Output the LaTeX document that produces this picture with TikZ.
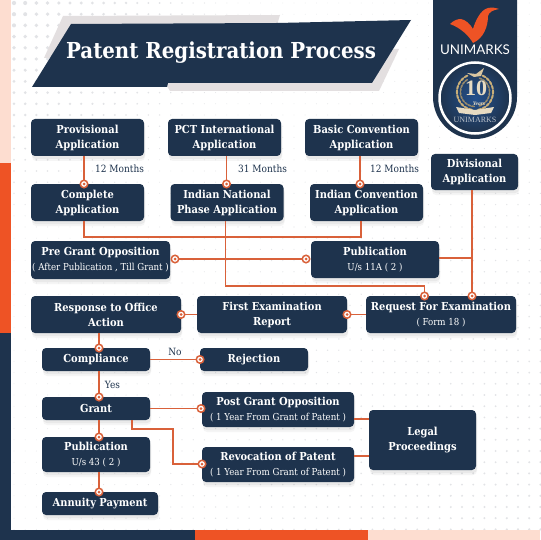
\documentclass[tikz,border=0pt]{standalone}
\usepackage{fontspec}
\usetikzlibrary{positioning,calc,shadows}
\setmainfont{DejaVu Serif Condensed}
\newfontfamily\logofont{Lato}
\newfontfamily\medalfont{Liberation Serif}
\definecolor{navy}     {HTML}{1E334D}
\definecolor{flame}    {HTML}{EE5325}
\definecolor{blush}    {HTML}{FDDDD0}
\definecolor{wirered}  {HTML}{D9613A}
\definecolor{banshade} {HTML}{E3DFE0}
\definecolor{dotgrey}  {HTML}{E2E3E6}
\definecolor{gold}     {HTML}{C9AE78}
\definecolor{medalblue}{HTML}{24508C}
\tikzset{
  x=1pt, y=-1pt,
  % --- nodes
  box/.style    = {rounded corners=4pt, fill=navy, text=white, align=center, outer sep=0pt,
                   inner sep=0pt, font=\fontsize{11}{15}\selectfont\bfseries,
                   drop shadow={opacity=.08, shadow xshift=1pt, shadow yshift=-5pt},
                   drop shadow={opacity=.10, shadow xshift=1pt, shadow yshift=-3pt}},
  wide/.style   = {box, minimum width=113pt, minimum height=37pt},
  small/.style  = {box, minimum width=108pt, minimum height=23pt},
  hub/.style    = {circle, draw=wirered, fill=white, line width=1.5pt, minimum size=7.5pt,
                   inner sep=0pt, outer sep=0pt,
                   path picture={\fill[wirered] (path picture bounding box.center) circle (1.5pt);}},
  lbl/.style    = {font=\fontsize{10}{12}\selectfont, text=navy, inner sep=0pt},
  % --- edges
  wire/.style   = {draw=wirered, line width=1.4pt},
}
\newcommand{\subline}[1]{{\fontsize{9.6}{13}\selectfont\mdseries #1}}
\begin{document}
\begin{tikzpicture}
  \useasboundingbox (0,0) rectangle (540,540);
  \fill[white] (0,0) rectangle (540,540);

  % ------------------------------------------------------------------ dots
  \foreach \i in {0,...,47}{
    \foreach \j in {0,...,47}{
      \pgfmathsetmacro{\px}{14+11.2*\i}
      \pgfmathsetmacro{\py}{3+11.2*\j}
      \pgfmathsetmacro{\rad}{0.35+1.9*max(0,1-veclen(\px,\py)/240)+0.9*(\px/540)*(\py/540)}
      \fill[dotgrey] (\px,\py) circle (\rad);
    }
  }

  % ------------------------------------------------------------------ frame
  \fill[blush] (0,0) rectangle (11,163);
  \fill[flame] (0,163) rectangle (11,333);
  \fill[navy]  (0,333) rectangle (11,540);
  \fill[navy]  (0,530) rectangle (195,540);
  \fill[flame] (195,530) rectangle (368,540);
  \fill[blush] (368,530) rectangle (540,540);

  % ------------------------------------------------------------------ title
  \fill[banshade] (44,58) -- (63,16) -- (280,15) -- (277,25) -- (71,26) -- (56,58) -- cycle;
  \fill[banshade] (165,83) -- (170,91) -- (379,91) -- (399,49) -- (390,49) -- (372,83) -- cycle;
  \fill[navy] (32,87) -- (71,24) -- (277,23) -- (411,20) -- (372,83) -- (168,83) -- (167,87) -- cycle;
  \node[text=white, inner sep=0pt, font=\fontsize{22}{26}\selectfont\bfseries] (title) at (221,53)
    {Patent Registration Process};

  % ------------------------------------------------------------------ badge
  \fill[navy] (433,0) -- (517,0) -- (517,97) arc[start angle=0, end angle=180, radius=42] -- cycle;
  \fill[flame] (450,24) .. controls (454,20) and (458,19) .. (461,19)
    .. controls (466,20) and (470,24) .. (473,29)
    .. controls (475,22) and (480,10) .. (488,8)
    .. controls (492,7) and (496,8) .. (499,9)
    .. controls (493,10) and (489,12) .. (488,16)
    .. controls (488,26) and (484,38) .. (473,43)
    .. controls (469,36) and (461,28) .. (450,24) -- cycle;
  \node[text=white, inner sep=0pt, font=\logofont\fontsize{13.4}{15}\selectfont] (brand) at (475,50) {UNIMARKS};
  \shade[inner color=medalblue, outer color=navy] (475,98) circle (35.5);
  \draw[white, line width=2.5pt] (475,98) circle (35.5);
  \foreach \a in {-75,-60,...,60,120,135,...,255}{
    \fill[gold, shift={(475,92)}, rotate=\a] (18,0) ellipse (1.1 and 2.6);
    \fill[gold!70!navy, shift={(475,92)}, rotate=\a+7] (14.5,0) ellipse (0.9 and 2.1);
  }
  \fill[gold!70!white] (467,73) -- (476,74) -- (484,68) -- (481,76) -- (474,77) -- cycle;
  \node[text=gold!45!white, inner sep=0pt, font=\medalfont\fontsize{22}{22}\selectfont\bfseries] (decade) at (476,88) {10};
  \fill[gold!45!white] (456,107) -- (475,110) -- (494,107) -- (491,113) -- (475,115) -- (459,113) -- cycle;
  \node[text=gold!40!white, inner sep=0pt, font=\medalfont\fontsize{5.5}{6}\selectfont\itshape\bfseries] (years) at (479,104) {Years};
  \node[text=white!70!navy, inner sep=0pt, font=\medalfont\fontsize{8}{8}\selectfont] (brandsub) at (475,120) {UNIMARKS};

  % ------------------------------------------------------------------ boxes
  \node[wide] (prov) at (87.5,137.5) {Provisional\\Application};
  \node[wide, right=24pt of prov] (pct) {PCT International\\Application};
  \node[wide, right=24pt of pct] (basic) {Basic Convention\\Application};
  \node[wide, below=28pt of prov] (comp) {Complete\\Application};
  \node[wide, below=28pt of pct, xshift=2.5pt] (natl) {Indian National\\Phase Application};
  \node[wide, below=28pt of basic, xshift=5pt] (conv) {Indian Convention\\Application};
  \node[box, minimum width=87pt, minimum height=36pt] (divis) at (474.5,172) {Divisional\\Application};
  \node[box, minimum width=139pt, minimum height=38pt] (pregrant) at (100.5,260) {Pre Grant Opposition\\\subline{( After Publication , Till Grant )}};
  \node[box, minimum width=128pt, minimum height=37pt] (pub) at (375,259.5) {Publication\\\subline{U/s 11A ( 2 )}};
  \node[box, minimum width=150pt, minimum height=37pt] (resp) at (106,314.5) {Response to Office\\Action};
  \node[box, minimum width=150pt, minimum height=37pt, right=16pt of resp] (exam) {First Examination\\Report};
  \node[box, minimum width=150pt, minimum height=37pt, right=19pt of exam] (req) {Request For Examination\\\subline{( Form 18 )}};
  \node[small] (compl) at (96,359.5) {Compliance};
  \node[small, right=50pt of compl] (rej) {Rejection};
  \node[small, below=26pt of compl] (grant) {Grant};
  \node[small, minimum height=35pt, below=17pt of grant] (pubfin) {Publication\\\subline{U/s 43 ( 2 )}};
  \node[small, minimum width=116pt, below=20pt of pubfin.south west, anchor=north west] (annuity) {Annuity Payment};
  \node[box, minimum width=152pt, minimum height=35pt] (post) at (278,409.5) {Post Grant Opposition\\\subline{( 1 Year From Grant of Patent )}};
  \node[box, minimum width=152pt, minimum height=35pt, below=20pt of post] (revo) {Revocation of Patent\\\subline{( 1 Year From Grant of Patent )}};
  \node[box, minimum width=107pt, minimum height=60pt] (legal) at (422.5,440) {Legal\\Proceedings};

  % ------------------------------------------------- application rows
  \draw[wire] ($(prov.south)+(-3.5,0)$) -- ($(comp.north)+(-3.5,0)$) node[hub] (hcomp) {};
  \draw[wire] ($(pct.south)+(2,0)$) -- ($(natl.north)+(-0.5,0)$) node[hub] (hnatl) {};
  \draw[wire] ($(basic.south)+(-1.5,0)$) -- ($(conv.north)+(-6.5,0)$) node[hub] (hconv) {};
  \node[lbl, anchor=west] (m1) at (95,169) {12 Months};
  \node[lbl, anchor=west] (m2) at (238,169) {31 Months};
  \node[lbl, anchor=west] (m3) at (370,169) {12 Months};

  % ------------------------------------------------- into publication, request
  \draw[wire] ($(comp.south)+(-3.5,0)$) |- ($(conv.south)+(-5.5,16)$) -- ($(conv.south)+(-5.5,0)$);
  \coordinate (rq1) at ($(req.north)+(-16.5,0)$);
  \coordinate (rq2) at ($(req.north)+(31,0)$);
  \draw[wire] ($(natl.south)+(-1.5,0)$) |- ($(rq1)+(0,-10)$) -- (rq1) node[hub] (hreq) {};
  \draw[wire] ($(divis.south)+(-2.5,0)$) -- (rq2) node[hub] (hdiv) {};
  \draw[wire] ($(pub.east)+(0,-1.5)$) -- ($(pub.east -| hdiv)+(0,-1.5)$);
  \draw[wire] ($(pregrant.east)+(5,-1)$) node[hub] (hpre) {} -- ($(pub.west)+(-5,-0.5)$) node[hub] (hpub) {};

  % ------------------------------------------------- examination row
  \draw[wire] (req.west) -- (exam.east) node[hub] (hexam) {};
  \draw[wire] (exam.west) -- (resp.east) node[hub] (hresp) {};
  \draw[wire] ($(resp.south)+(-7,0)$) -- ($(compl.north)+(3,0)$) node[hub] (hcompl) {};

  % ------------------------------------------------- decisions
  \draw[wire] (compl.east) -- (rej.west) node[hub] (hrej) {};
  \node[lbl, anchor=south] (no) at (175,356) {No};
  \draw[wire] ($(compl.south)+(3,0)$) -- ($(grant.north)+(3,0)$) node[hub] (hgrant) {};
  \node[lbl] (yes) at (112.5,385) {Yes};
  \draw[wire] (grant.east) -- ($(post.west)+(-1,-1)$) node[hub] (hpost) {};
  \draw[wire] ($(grant.south)+(36,0)$) |- (173,429) |- ($(revo.west)+(0,-0.5)$) node[hub] (hrevo) {};
  \draw[wire] ($(grant.south)+(3,0)$) -- ($(pubfin.north)+(3,0)$) node[hub] (hpubfin) {};
  \draw[wire] ($(pubfin.south)+(3,0)$) -- ($(annuity.north)+(-1,0)$) node[hub] (hannuity) {};
  \draw[wire] ($(post.east)+(0,9.5)$) -- ($(legal.west)+(0,-21)$);
  \draw[wire] ($(revo.east)+(0,-8.5)$) -- ($(legal.west)+(0,16)$);
\end{tikzpicture}
\end{document}
